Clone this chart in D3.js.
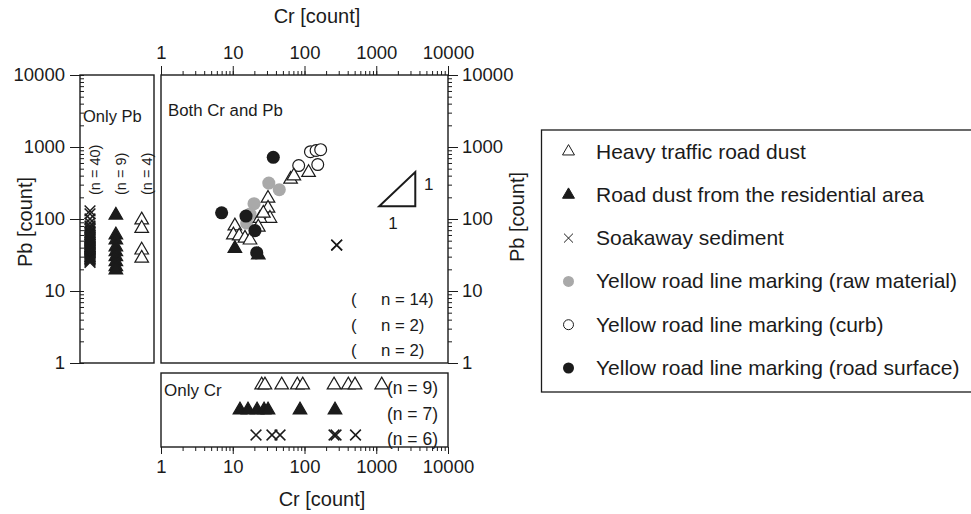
<!DOCTYPE html>
<html>
<head>
<meta charset="utf-8">
<script src="https://cdn.jsdelivr.net/npm/d3@7"></script>
<style>
  body { margin: 0; background: #fff; }
  svg { font-family: "Liberation Sans", Arial, sans-serif; }
</style>
</head>
<body>
<svg width="971" height="514"></svg>
<script>
// ---- data (Cr and Pb counts) ----
const heavyBothCr = [64, 71, 114, 31, 31, 33, 24, 22.7, 26.7, 10.7, 10.2, 12.3, 14.8, 17.4];
const heavyBothPb = [356, 396, 442, 194, 141, 102, 102, 77, 120, 80, 60, 58, 54, 51];
const residBothCr = [10.7, 22.7];
const residBothPb = [39, 31.6];
const soakBothCr = [281, 281];
const soakBothPb = [43.5, 43.5];
const rawCr = [31.8, 44.5, 19.8, 17.4, 15.6];
const rawPb = [316, 255, 163, 117, 88];
const curbCr = [121, 145, 168, 83, 153];
const curbPb = [860, 894, 918, 553, 571];
const surfCr = [36.7, 7.0, 15.3, 20.4, 21.6];
const surfPb = [719, 122, 110, 69, 34];

// only Pb detected
const soakOnlyPb = [130, 118, 100, 88, 80, 76, 72, 68, 65, 62, 60, 58, 56, 54, 52, 50, 48, 47, 45, 44,
  42, 41, 40, 39, 38, 37, 36, 35, 34, 33, 32, 31, 30, 30, 29, 28, 28, 27, 26, 25];
const residOnlyPb = [113, 60, 51, 41, 35, 30, 25.5, 21.8, 19.6];
const heavyOnlyPb = [97, 74, 37, 28.5];

// only Cr detected
const heavyOnlyCr = [25.3, 28.1, 48.1, 79.4, 94.4, 258, 408, 506, 1191];
const residOnlyCr = [12.6, 16.3, 21.8, 27.3, 31, 86.5, 266];
const soakOnlyCr = [21.1, 35.2, 45.6, 258, 275, 514];

const majorTicks = [1, 10, 100, 1000, 10000];
const slopeTri = [[1100, 150], [3500, 150], [3500, 450]];

const legendLabels = [
  'Heavy traffic road dust',
  'Road dust from the residential area',
  'Soakaway sediment',
  'Yellow road line marking (raw material)',
  'Yellow road line marking (curb)',
  'Yellow road line marking (road surface)'
];
const bothCounts = ['n = 14)', 'n = 2)', 'n = 2)'];
const onlyPbCounts = ['(n = 40)', '(n = 9)', '(n = 4)'];
const onlyCrCounts = ['(n = 9)', '(n = 7)', '(n = 6)'];

const ink = '#1b1b1b';
const grey = '#a9a9a9';

const svg = d3.select('svg');

const x = d3.scaleLog().domain([1, 10000]).range([161, 448]);
const y = d3.scaleLog().domain([1, 10000]).range([363, 75]);
const pbCol = d3.scalePoint().domain(['soak', 'resid', 'heavy']).range([90, 141.7]);
const crRow = d3.scalePoint().domain(['heavy', 'resid', 'soak']).range([385, 435]);

const crossType = {
  draw(ctx, size) {
    const r = Math.sqrt(size) / 2;
    ctx.moveTo(-r, -r); ctx.lineTo(r, r);
    ctx.moveTo(r, -r); ctx.lineTo(-r, r);
  }
};

const styles = {
  heavy: { type: d3.symbolTriangle, size: 80, fill: '#fff', stroke: ink },
  resid: { type: d3.symbolTriangle, size: 80, fill: ink, stroke: ink },
  soak: { type: crossType, size: 115, fill: 'none', stroke: ink },
  raw: { type: d3.symbolCircle, size: 135, fill: grey, stroke: 'none' },
  curb: { type: d3.symbolCircle, size: 110, fill: '#fff', stroke: ink },
  surf: { type: d3.symbolCircle, size: 135, fill: ink, stroke: 'none' }
};

var drawMarks = (g, pts, key) => {
  const s = styles[key];
  g.selectAll(null)
    .data(pts)
    .enter()
    .append('path')
    .attr('d', d3.symbol().type(s.type).size(s.size))
    .attr('transform', d => `translate(${d[0]},${d[1]})`)
    .attr('fill', s.fill)
    .attr('stroke', s.stroke)
    .attr('stroke-width', key == 'soak' ? 1.5 : 1.2);
}

var clean = g => {
  g.select('.domain').remove();
  g.selectAll('line').attr('stroke', ink);
  g.selectAll('text').attr('fill', ink).attr('font-size', 18.5);
}

// ---- axes ----
const minor = x.ticks();
const fmt = d3.format('d');

// top of main panel
svg.append('g').attr('transform', 'translate(0,75)')
  .call(d3.axisTop(x).tickValues(minor).tickSize(4).tickFormat(''))
  .call(clean);
svg.append('g').attr('transform', 'translate(0,75)')
  .call(d3.axisTop(x).tickValues(majorTicks).tickSize(9).tickPadding(7).tickFormat(fmt))
  .call(clean);

// right of main panel
svg.append('g').attr('transform', 'translate(448,0)')
  .call(d3.axisRight(y).tickValues(minor).tickSize(4).tickFormat(''))
  .call(clean);
svg.append('g').attr('transform', 'translate(448,0)')
  .call(d3.axisRight(y).tickValues(majorTicks).tickSize(10).tickPadding(4).tickFormat(fmt))
  .call(clean);

// left of "only Pb" panel
svg.append('g').attr('transform', 'translate(80,0)')
  .call(d3.axisRight(y).tickValues(minor).tickSize(4).tickFormat(''))
  .call(clean);
svg.append('g').attr('transform', 'translate(80,0)')
  .call(d3.axisLeft(y).tickValues(majorTicks).tickSize(10).tickPadding(5).tickFormat(fmt))
  .call(clean);

// bottom of "only Cr" panel
svg.append('g').attr('transform', 'translate(0,447)')
  .call(d3.axisBottom(x).tickValues(minor).tickSize(4).tickFormat(''))
  .call(clean);
svg.append('g').attr('transform', 'translate(0,447)')
  .call(d3.axisBottom(x).tickValues(majorTicks).tickSize(7).tickPadding(6).tickFormat(fmt))
  .call(clean);

// ---- panel frames ----
const frames = [[80, 75, 154, 363], [161, 75, 448, 363], [161, 373, 448, 447]];
svg.selectAll('.frame')
  .data(frames)
  .enter()
  .append('rect')
  .attr('class', 'frame')
  .attr('x', d => d[0])
  .attr('y', d => d[1])
  .attr('width', d => d[2] - d[0])
  .attr('height', d => d[3] - d[1])
  .attr('fill', 'none')
  .attr('stroke', ink)
  .attr('stroke-width', 1.4);

// ---- axis titles ----
svg.append('text').attr('x', 317).attr('y', 23).attr('text-anchor', 'middle')
  .attr('font-size', 20).attr('fill', ink).text('Cr [count]');
svg.append('text').attr('x', 322).attr('y', 506).attr('text-anchor', 'middle')
  .attr('font-size', 20).attr('fill', ink).text('Cr [count]');
svg.append('text').attr('transform', 'translate(32,222) rotate(-90)').attr('text-anchor', 'middle')
  .attr('font-size', 20).attr('fill', ink).text('Pb [count]');
svg.append('text').attr('transform', 'translate(524,217) rotate(-90)').attr('text-anchor', 'middle')
  .attr('font-size', 20).attr('fill', ink).text('Pb [count]');

// ---- main panel ----
const main = svg.append('g');
const zip = (a, b) => a.map((v, i) => [x(v), y(b[i])]);
drawMarks(main, zip(rawCr, rawPb), 'raw');
drawMarks(main, zip(curbCr, curbPb), 'curb');
drawMarks(main, zip(heavyBothCr, heavyBothPb), 'heavy');
drawMarks(main, zip(residBothCr, residBothPb), 'resid');
drawMarks(main, zip(surfCr, surfPb), 'surf');
drawMarks(main, zip(soakBothCr, soakBothPb), 'soak');

main.append('path')
  .attr('d', d3.line().x(d => x(d[0])).y(d => y(d[1]))(slopeTri) + 'Z')
  .attr('fill', 'none').attr('stroke', ink).attr('stroke-width', 2);
main.append('text').attr('x', 424).attr('y', 190).attr('font-size', 17).attr('fill', ink).text('1');
main.append('text').attr('x', 393).attr('y', 229).attr('text-anchor', 'middle')
  .attr('font-size', 17).attr('fill', ink).text('1');

main.append('text').attr('x', 168).attr('y', 116).attr('font-size', 16.8).attr('fill', ink).text('Both Cr and Pb');
bothCounts.forEach((t, i) => {
  main.append('text').attr('x', 351).attr('y', 305 + i * 25.5).attr('font-size', 16.8).attr('fill', ink).text('(');
  main.append('text').attr('x', 381).attr('y', 305 + i * 25.5).attr('font-size', 16.8).attr('fill', ink).text(t);
});

// ---- only Pb panel ----
const left = svg.append('g');
drawMarks(left, soakOnlyPb.map(v => [pbCol('soak'), y(v)]), 'soak');
drawMarks(left, residOnlyPb.map(v => [pbCol('resid'), y(v)]), 'resid');
drawMarks(left, heavyOnlyPb.map(v => [pbCol('heavy'), y(v)]), 'heavy');
left.append('text').attr('x', 83).attr('y', 122).attr('font-size', 16.5).attr('fill', ink).text('Only Pb');
onlyPbCounts.forEach((t, i) => {
  left.append('text')
    .attr('transform', `translate(${pbCol.domain().map(pbCol)[i] + 10},195) rotate(-90)`)
    .attr('font-size', 14.5).attr('fill', ink).text(t);
});

// ---- only Cr panel ----
const bottom = svg.append('g');
drawMarks(bottom, heavyOnlyCr.map(v => [x(v), crRow('heavy')]), 'heavy');
drawMarks(bottom, residOnlyCr.map(v => [x(v), crRow('resid')]), 'resid');
drawMarks(bottom, soakOnlyCr.map(v => [x(v), crRow('soak')]), 'soak');
bottom.append('text').attr('x', 164).attr('y', 396).attr('font-size', 17).attr('fill', ink).text('Only Cr');
onlyCrCounts.forEach((t, i) => {
  bottom.append('text').attr('x', 438).attr('y', 394 + i * 25.5).attr('text-anchor', 'end')
    .attr('font-size', 17.5).attr('fill', ink).text(t);
});

// ---- legend ----
const legend = svg.append('g');
legend.append('rect').attr('x', 541.5).attr('y', 130).attr('width', 440).attr('height', 262)
  .attr('fill', 'none').attr('stroke', ink).attr('stroke-width', 1.3);
const legKeys = ['heavy', 'resid', 'soak', 'raw', 'curb', 'surf'];
const legSize = { heavy: 62, resid: 62, soak: 80, raw: 95, curb: 78, surf: 95 };
legKeys.forEach((k, i) => {
  const base = 158.5 + i * 43.3;
  const s = styles[k];
  legend.append('path')
    .attr('d', d3.symbol().type(s.type).size(legSize[k]))
    .attr('transform', `translate(568.5,${base - 7})`)
    .attr('fill', s.fill)
    .attr('stroke', s.stroke)
    .attr('stroke-width', 1);
  legend.append('text').attr('x', 596).attr('y', base).attr('font-size', 21).attr('fill', ink).text(legendLabels[i]);
});
</script>
</body>
</html>
